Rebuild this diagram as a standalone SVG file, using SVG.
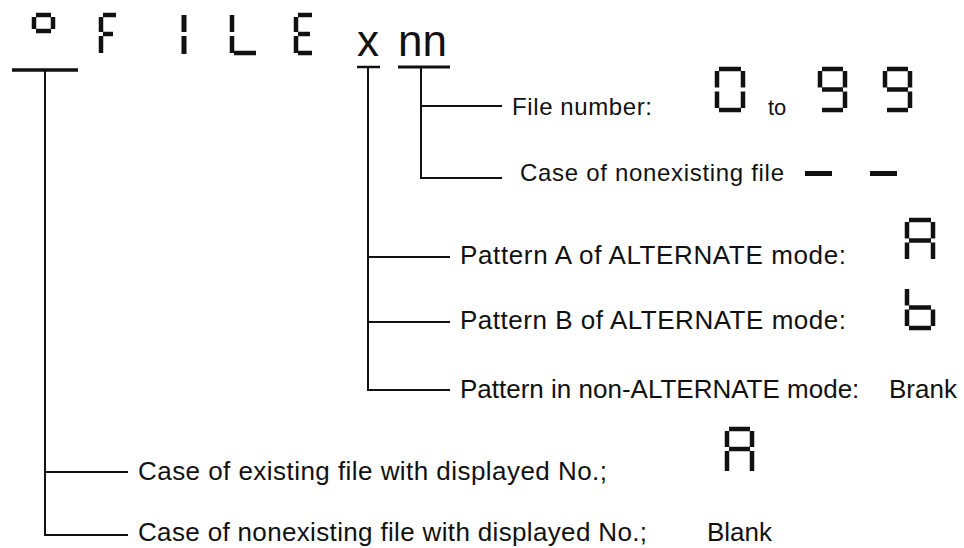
<svg xmlns="http://www.w3.org/2000/svg" width="964" height="548" viewBox="0 0 964 548">
<style>
.seg{fill:none;stroke:#111;stroke-width:4.5;stroke-linecap:butt}
.ln{fill:none;stroke:#111;stroke-width:2}
.ul{fill:none;stroke:#111;stroke-width:3.5}
.t{font-family:"Liberation Sans",Arial,sans-serif;fill:#111}
</style>
<rect width="964" height="548" fill="#fff"/>
<g id="display">
  <path class="seg" d="M36 15H51M34 17V29M53 17V29M36 31H51"/>
  <path class="seg" d="M103 15H116M101 17V32M101 36V53M103 34H113"/>
  <path class="seg" d="M184 15V32M184 36V54" style="stroke-width:5"/>
  <path class="seg" d="M232 15V32M232 36V53M234 53H256"/>
  <path class="seg" d="M298 15H312M296 17V32M298 34H310M296 36V53M298 53H312"/>
  <text class="t" x="357" y="56" font-size="44">x</text>
  <text class="t" x="398" y="56" font-size="44">nn</text>
</g>
<g id="connectors">
  <line class="ul" x1="12" y1="70" x2="78" y2="70"/>
  <line class="ul" x1="357" y1="67" x2="380" y2="67" style="stroke-width:2.5"/>
  <line class="ul" x1="398" y1="67" x2="450" y2="67" style="stroke-width:3"/>
  <path class="ln" d="M45 70V535H128M45 472H128"/>
  <path class="ln" d="M368 67V390H450M368 257H450M368 322H450"/>
  <path class="ln" d="M421 67V178H502M421 106H502"/>
</g>
<g id="file-number">
  <text class="t" x="512" y="115" font-size="24" textLength="140">File number:</text>
  <path class="seg" d="M719 69H741M743 71V87.5M743 91.5V108M719 110H741M717 91.5V108M717 71V87.5"/>
  <text class="t" x="768" y="115" font-size="22">to</text>
  <path class="seg" d="M822 69H843M845 71V87.5M845 91.5V108M822 110H843M820 71V87.5M822 89.5H843"/>
  <path class="seg" d="M887 69H908M910 71V87.5M910 91.5V108M887 110H908M885 71V87.5M887 89.5H908"/>
</g>
<g id="nonexisting-file">
  <text class="t" x="520" y="181" font-size="24" textLength="264">Case of nonexisting file</text>
  <rect x="805" y="171" width="27" height="5" fill="#111"/>
  <rect x="870" y="171" width="27" height="5" fill="#111"/>
</g>
<g id="pattern-a">
  <text class="t" x="460" y="264" font-size="26" textLength="386">Pattern A of ALTERNATE mode:</text>
  <path class="seg" d="M909 220H931M933 222V238.5M933 242.5V259M907 242.5V259M907 222V238.5M909 240.5H931"/>
</g>
<g id="pattern-b">
  <text class="t" x="460" y="329" font-size="26" textLength="386">Pattern B of ALTERNATE mode:</text>
  <path class="seg" d="M907 289V305.5M907 309.5V326M909 307.5H931M933 309.5V326M909 328H931"/>
</g>
<g id="pattern-non">
  <text class="t" x="460" y="398" font-size="26">Pattern in non-ALTERNATE mode: <tspan x="889">Brank</tspan></text>
</g>
<g id="existing">
  <text class="t" x="138" y="480" font-size="26" textLength="469">Case of existing file with displayed No.;</text>
  <path class="seg" d="M729 429H750M752 431V447M752 451V471M727 451V471M727 431V447M729 449H750"/>
</g>
<g id="nonexisting">
  <text class="t" x="138" y="541" font-size="26" textLength="509">Case of nonexisting file with displayed No.;</text>
  <text class="t" x="707" y="541" font-size="26">Blank</text>
</g>
</svg>
